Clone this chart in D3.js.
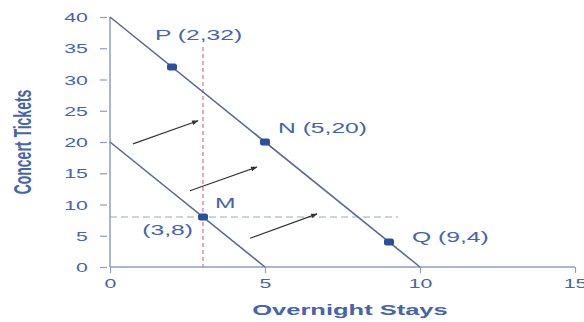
<!DOCTYPE html>
<html><head><meta charset="utf-8">
<script src="https://cdn.jsdelivr.net/npm/d3@7"></script>
<style>
html,body{margin:0;padding:0;background:#fff;}
svg{display:block;}
text{font-family:"Liberation Sans",Arial,sans-serif;}
</style></head>
<body>
<svg id="c" width="584" height="322"></svg>
<script>
// ---- data ----
const xTicks = [0, 5, 10, 15];
const yTicks = [0, 5, 10, 15, 20, 25, 30, 35, 40];
const budgetLow = [[0, 20], [5, 0]];
const budgetHigh = [[0, 40], [10, 0]];
const pointNames = ["P", "N", "M", "Q"];
const pointX = [2, 5, 3, 9];
const pointY = [32, 20, 8, 4];
const vDash = [[3, 35.2], [3, 0]];
const hDash = [[0, 8], [9.3, 8]];
const arrows = [
  [[0.74, 19.7], [2.84, 23.4]],
  [[2.58, 12.2], [4.74, 16.0]],
  [[4.52, 4.6], [6.68, 8.5]]
];
const xTitle = "Overnight Stays";
const yTitle = "Concert Tickets";

// ---- layout ----
const SX = 1.7;
const blue = "#4464ad";
const axisCol = "#8e9cc6";
const svg = d3.select("#c");
const x = d3.scaleLinear().domain([0, 15]).range([110, 575]);
const y = d3.scaleLinear().domain([0, 40]).range([267, 17]);

svg.append("defs").append("marker")
  .attr("id", "ah").attr("viewBox", "0 0 10 10").attr("refX", 9).attr("refY", 5)
  .attr("markerWidth", 7).attr("markerHeight", 6).attr("orient", "auto")
  .append("path").attr("d", "M0,1.5 L10,5 L0,8.5 Z").attr("fill", "#333");

// axes
const gx = svg.append("g").attr("transform", `translate(0,${y(0)})`)
  .call(d3.axisBottom(x).tickValues(xTicks).tickSize(6).tickPadding(3).tickFormat(d3.format("d")));
const gy = svg.append("g").attr("transform", `translate(${x(0)},0)`)
  .call(d3.axisLeft(y).tickValues(yTicks).tickSize(10).tickFormat(d3.format("d")));
[gx, gy].forEach(g => {
  g.select(".domain").attr("stroke", axisCol).attr("stroke-width", 1.5);
  g.selectAll(".tick line").attr("stroke", axisCol).attr("stroke-width", 1.2);
  g.selectAll(".tick text").attr("fill", blue).attr("font-size", 12.5)
    .attr("font-family", "Liberation Sans, Arial, sans-serif");
});
gy.select(".domain").attr("d", `M0,${y(0)}V${y(40)}`);
gx.select(".domain").attr("d", `M${x(0)},0H${x(15)}`);
gy.selectAll(".tick line").attr("x1", -3).attr("x2", -10);
gy.selectAll(".tick text").attr("x", -13).attr("dy", "0.36em")
  .attr("transform", `scale(${SX},1)`);
gx.selectAll(".tick text").attr("y", 12).attr("dy", "0.71em")
  .attr("transform", `scale(${SX},1)`);

// dashed guides
const line = d3.line().x(d => x(d[0])).y(d => y(d[1]));
svg.append("path").attr("d", line(hDash)).attr("fill", "none")
  .attr("stroke", "#9aa7c4").attr("stroke-width", 1).attr("stroke-dasharray", "7,4");
svg.append("path").attr("d", line(vDash)).attr("fill", "none")
  .attr("stroke", "#d6709a").attr("stroke-width", 1.2).attr("stroke-dasharray", "4,3");

// budget lines
[budgetLow, budgetHigh].forEach(b => {
  svg.append("path").attr("d", line(b)).attr("fill", "none")
    .attr("stroke", "#5a6a93").attr("stroke-width", 1.6);
});

// arrows
arrows.forEach(a => {
  svg.append("path").attr("d", line(a)).attr("fill", "none")
    .attr("stroke", "#333").attr("stroke-width", 1.1).attr("marker-end", "url(#ah)");
});

// points
pointX.forEach((px, i) => {
  svg.append("rect").attr("x", x(px) - 5).attr("y", y(pointY[i]) - 3.5)
    .attr("width", 10).attr("height", 7).attr("rx", 2.5)
    .attr("fill", "#2b4f9c");
});

// point labels
function stretchText(tx, ty, str, opts) {
  return svg.append("text")
    .attr("transform", `translate(${tx},${ty}) scale(${SX},1)`)
    .attr("fill", blue).attr("font-size", opts.size || 14.5)
    .attr("font-weight", opts.weight || "normal")
    .attr("text-anchor", opts.anchor || "start")
    .text(str);
}
const lbl = i => `${pointNames[i]} (${pointX[i]},${pointY[i]})`;
stretchText(x(pointX[0]) - 17, y(pointY[0]) - 27, lbl(0), {});
stretchText(x(pointX[1]) + 13, y(pointY[1]) - 9, lbl(1), {});
stretchText(x(pointX[2]) + 12, y(pointY[2]) - 9, pointNames[2], {});
stretchText(x(pointX[2]) - 10, y(pointY[2]) + 18, `(${pointX[2]},${pointY[2]})`, {anchor: "end"});
stretchText(x(pointX[3]) + 23, y(pointY[3]), lbl(3), {});

// axis titles
stretchText(350, 315, xTitle, {size: 15, weight: "bold", anchor: "middle"});
svg.append("text")
  .attr("transform", `translate(31,142) scale(${SX},1) rotate(-90)`)
  .attr("fill", blue).attr("font-size", 14).attr("font-weight", "bold")
  .attr("text-anchor", "middle").text(yTitle);
</script>
</body></html>
